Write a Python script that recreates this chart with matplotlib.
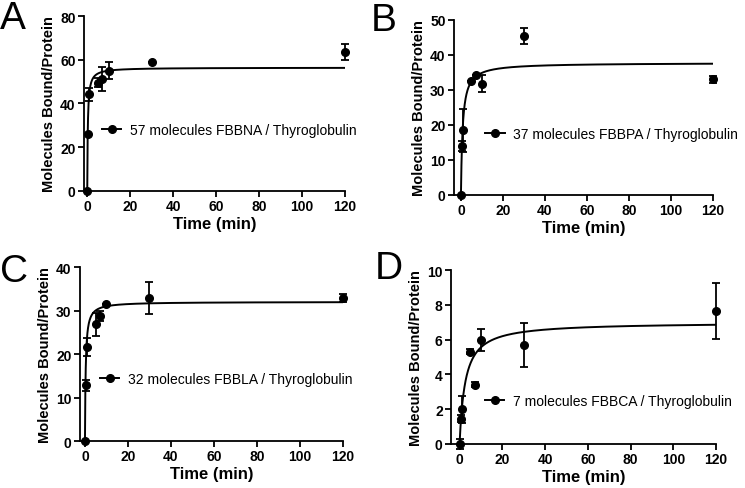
import numpy as np
import matplotlib
matplotlib.use("Agg")
import matplotlib.pyplot as plt

plt.rcParams["font.family"] = ["Liberation Sans", "DejaVu Sans"]

# time points (min)
time_a = [0, 0.5, 1, 5, 7, 10, 30, 120]
bound_a = [0, 26, 44.3, 49.5, 51, 55, 59, 63.5]
err_a = [0, 0, 3, 2, 5.5, 4, 0, 3.5]

time_b = [0, 0.5, 1, 5, 7, 10, 30, 120]
bound_b = [0, 14, 18.5, 32.5, 34.2, 31.8, 45.4, 33]
err_b = [0, 1.3, 6.2, 0, 0, 2.5, 2.3, 1]

time_c = [0, 0.5, 1, 5, 7, 10, 30, 120]
bound_c = [0, 12.8, 21.6, 26.8, 28.7, 31.4, 32.9, 32.9]
err_c = [0, 1.2, 2.1, 2.7, 1.1, 0, 3.6, 1]

time_d = [0, 0.5, 1, 5, 7, 10, 30, 120]
bound_d = [0, 1.45, 2.0, 5.3, 3.4, 6.0, 5.7, 7.65]
err_d = [0.3, 0.2, 0.77, 0.15, 0.15, 0.63, 1.26, 1.62]

# one-site binding fit: Bmax, Kd
fit_a = (56.4, 0.25)
fit_b = (37.76, 0.82)
fit_c = (32.0, 0.33)
fit_d = (7.0, 2.6)

labels = ["57 molecules FBBNA / Thyroglobulin",
          "37 molecules FBBPA / Thyroglobulin",
          "32 molecules FBBLA / Thyroglobulin",
          "7 molecules FBBCA / Thyroglobulin"]
letters = ["A", "B", "C", "D"]
ymax = [80, 50, 40, 10]
ystep = [20, 10, 10, 2]
xleft = [-1.5, -3.3, -2.3, -4.0]

panels = [
    (time_a, bound_a, err_a, fit_a),
    (time_b, bound_b, err_b, fit_b),
    (time_c, bound_c, err_c, fit_c),
    (time_d, bound_d, err_d, fit_d),
]

# axes rectangles, figure fractions
rects = [
    [0.1128, 0.6074, 0.350, 0.3578],
    [0.6094, 0.5992, 0.3477, 0.3579],
    [0.1074, 0.0961, 0.353, 0.3558],
    [0.6054, 0.0900, 0.3557, 0.3558],
]
legend_pos = [(0.069, 0.349), (0.12, 0.349), (0.076, 0.356), (0.128, 0.247)]
letter_pos = [(0.0, 0.998), (0.497, 0.993), (0.0, 0.480), (0.503, 0.487)]

fig = plt.figure(figsize=(7.45, 4.89), dpi=100)

for i, (t, y, e, fit) in enumerate(panels):
    ax = fig.add_axes(rects[i])
    bmax, kd = fit
    tt = np.linspace(0, 120, 2000)
    ax.plot(tt, bmax * tt / (kd + tt), color="black", lw=1.4, zorder=2)
    ax.errorbar(t, y, yerr=e, fmt="o", color="black", ms=5.5, capsize=3,
                elinewidth=1.3, capthick=1.3, zorder=3, clip_on=False)
    # legend handle: line + marker
    ax.plot([], [], "-o", color="black", ms=5.5, lw=1.4, label=labels[i])
    ax.legend(loc="center left", bbox_to_anchor=legend_pos[i], frameon=False,
              borderpad=0, borderaxespad=0, handlelength=1.4,
              handletextpad=0.6, fontsize=10)

    ax.set_xlim(xleft[i], 120)
    ax.set_ylim(0, ymax[i])
    ax.set_xticks(np.arange(0, 121, 20))
    ax.set_yticks(np.arange(0, ymax[i] + 0.1, ystep[i]))
    for s in ["top", "right"]:
        ax.spines[s].set_visible(False)
    for s in ["left", "bottom"]:
        ax.spines[s].set_linewidth(1.3)
    ax.tick_params(direction="out", length=4, width=1.3, labelsize=10, pad=2)
    for lab in ax.get_xticklabels() + ax.get_yticklabels():
        lab.set_fontweight("bold")
    ax.set_xlabel("Time (min)", fontsize=12, fontweight="bold", labelpad=2)
    ax.set_ylabel("Molecules Bound/Protein", fontsize=10.5, fontweight="bold",
                  labelpad=3)

    fig.text(letter_pos[i][0], letter_pos[i][1], letters[i], fontsize=28,
             ha="left", va="top")

fig.savefig("out.png", dpi=100)
